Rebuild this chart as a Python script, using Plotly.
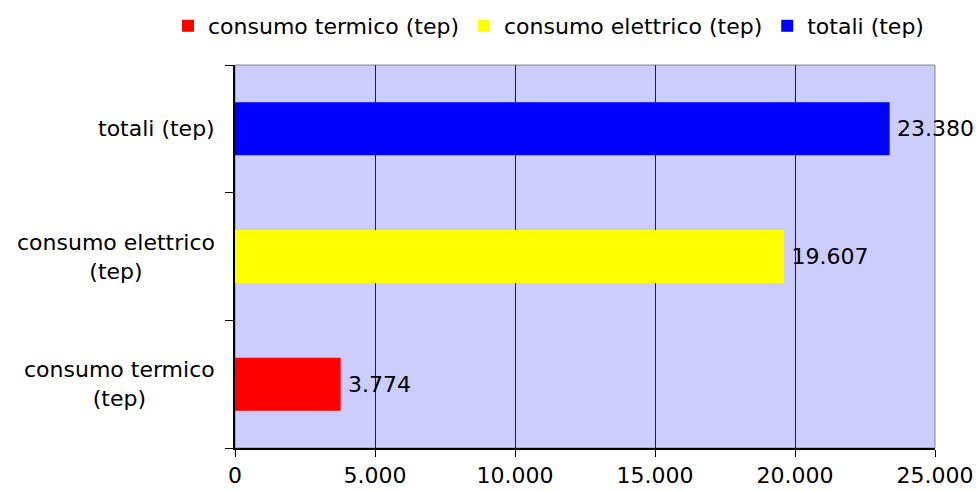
import plotly.graph_objects as go

categories = ["consumo termico (tep)", "consumo elettrico (tep)", "totali (tep)"]
tick_labels = ["consumo termico<br>(tep)", "consumo elettrico<br>(tep)", "totali (tep)"]
values = [3774, 19607, 23380]
colors = ["#FF0000", "#FFFF00", "#0000FF"]
x_ticks = [0, 5000, 10000, 15000, 20000, 25000]

FONT = "DejaVu Sans"
FS = 22

fig = go.Figure()
for cat, lab, val, col in zip(categories, tick_labels, values, colors):
    fig.add_trace(go.Bar(
        y=[lab], x=[val], name=cat, orientation="h",
        marker=dict(color=col, line=dict(width=0)),
        text=[val], texttemplate="\u2009%{x:,.0f}", textposition="outside",
        textfont=dict(family=FONT, size=FS, color="black"),
        cliponaxis=False, width=0.415,
    ))

for lab in tick_labels:
    fig.add_annotation(
        x=0, xref="paper", y=lab, yref="y", text=lab, showarrow=False,
        xanchor="right", align="center", xshift=-18,
        font=dict(family=FONT, size=FS, color="black"),
    )

fig.update_layout(
    width=979, height=491,
    margin=dict(l=235, r=44, t=65, b=43, autoexpand=False),
    paper_bgcolor="white", plot_bgcolor="#CCCCFF",
    barmode="overlay",
    separators=",.",
    font=dict(family=FONT, size=FS, color="black"),
    legend=dict(orientation="h", xref="paper", yref="paper",
                x=(168 - 235) / 700, xanchor="left", y=(448 - 26) / 383, yanchor="middle",
                font=dict(family=FONT, size=FS, color="black"),
                itemwidth=30, traceorder="normal", bgcolor="rgba(0,0,0,0)"),
    showlegend=True,
)
fig.update_xaxes(range=[0, 25000], tickvals=x_ticks, tickformat=",.0f",
                 showgrid=True, gridcolor="#222222", gridwidth=1,
                 showline=True, linecolor="black", linewidth=1.5,
                 ticks="outside", ticklen=7, tickcolor="black",
                 mirror=False, zeroline=False, automargin=False,
                 tickfont=dict(family=FONT, size=FS, color="black"))
fig.update_yaxes(categoryorder="array", categoryarray=tick_labels,
                 showticklabels=False, showgrid=False, automargin=False,
                 showline=True, linecolor="black", linewidth=1.5,
                 ticks="outside", ticklen=8, tickcolor="black", tickson="boundaries")
fig.add_shape(type="rect", xref="paper", yref="paper", x0=0, x1=1, y0=0, y1=1,
              line=dict(color="#888888", width=1), layer="below")

fig.write_html("out.html", config={"displayModeBar": False},
               post_script="document.body.style.margin='0';document.body.style.overflow='hidden';")
